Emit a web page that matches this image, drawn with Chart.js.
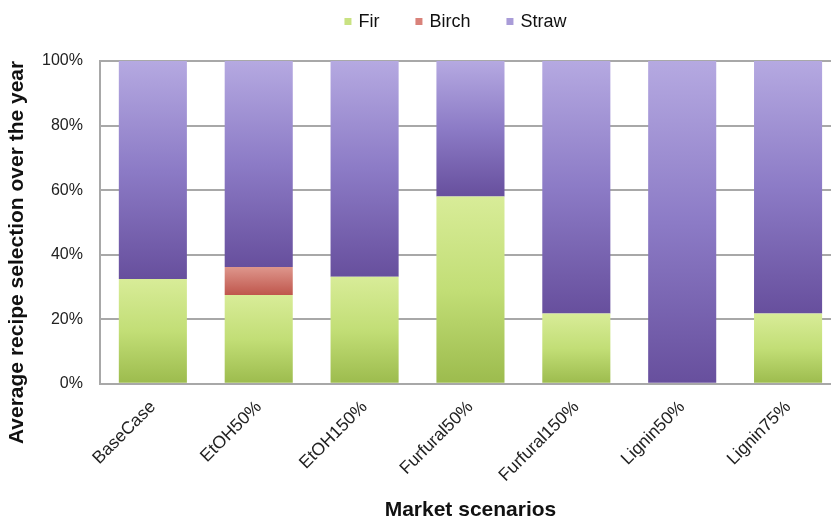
<!DOCTYPE html>
<html>
<head>
<meta charset="utf-8">
<script src="https://cdn.jsdelivr.net/npm/chart.js@4"></script>
<style>
    html, body { margin: 0; padding: 0; background: #fff; overflow: hidden; }
    #wrap { position: relative; width: 845px; height: 521px; }
</style>
</head>
<body>
<div id="wrap"><canvas id="chart"></canvas></div>
<script>
// Scenario results: share of each feedstock in the recipe, % of the year
const scenarios = ['BaseCase', 'EtOH50%', 'EtOH150%', 'Furfural50%', 'Furfural150%', 'Lignin50%', 'Lignin75%'];
const firShare = [32.5, 27.5, 33.2, 58, 21.8, 0, 21.8];
const birchShare = [0, 8.7, 0, 0, 0, 0, 0];
const strawShare = [67.5, 63.8, 66.8, 42, 78.2, 100, 78.2];

const feedstocks = ['Fir', 'Birch', 'Straw'];
const swatches = ['#c9e282', '#d9827a', '#a99cd8'];

const FONT = '"Liberation Sans", Arial, Helvetica, sans-serif';
const GRID = '#a8a8a8';

// Vertical gradient over one stacked segment (light on top, dark at bottom)
function segmentFill(stops) {
    return (c) => {
        const chart = c.chart;
        const { chartArea, scales } = chart;
        if (!chartArea || c.dataIndex === undefined) return stops[0];
        let base = 0;
        for (let k = 0; k < c.datasetIndex; k++) {
            base += chart.data.datasets[k].data[c.dataIndex];
        }
        const top = base + chart.data.datasets[c.datasetIndex].data[c.dataIndex];
        const y0 = scales.y.getPixelForValue(top);
        const y1 = scales.y.getPixelForValue(base);
        if (y1 - y0 < 1) return stops[0];
        const g = chart.ctx.createLinearGradient(0, y0, 0, y1);
        stops.forEach((col, i) => g.addColorStop(i / (stops.length - 1), col));
        return g;
    };
}

// Legend row above the plot and the rotated y title
const decorations = {
    id: 'decorations',
    afterDraw(chart) {
        const { ctx, chartArea } = chart;
        ctx.save();

        ctx.font = '18px ' + FONT;
        ctx.textBaseline = 'middle';
        const box = 7, gap = 7, spacing = 36;
        const widths = feedstocks.map(n => box + gap + ctx.measureText(n).width);
        const total = widths.reduce((a, b) => a + b, 0) + spacing * (feedstocks.length - 1);
        let x = (chartArea.left + chartArea.right) / 2 - 15 - total / 2;
        const y = 22.5;
        feedstocks.forEach((name, i) => {
            ctx.fillStyle = swatches[i];
            ctx.fillRect(x, y - box / 2 - 1, box, box);
            ctx.fillStyle = '#111';
            ctx.textAlign = 'left';
            ctx.fillText(name, x + box + gap, y);
            x += widths[i] + spacing;
        });

        // y title sits centred on the plot plus the tick label band below it
        ctx.font = 'bold 21px ' + FONT;
        ctx.fillStyle = '#111';
        ctx.translate(17, (chartArea.top + chartArea.bottom) / 2 + 30);
        ctx.rotate(-Math.PI / 2);
        ctx.textAlign = 'center';
        ctx.fillText('Average recipe selection over the year', 0, 0);
        ctx.restore();
    }
};

const barStyle = { categoryPercentage: 1.0, barPercentage: 0.643, borderWidth: 0 };

new Chart(document.getElementById('chart'), {
    type: 'bar',
    data: {
        labels: scenarios,
        datasets: [
            { label: 'Fir', data: firShare, backgroundColor: segmentFill(['#d8ec98', '#c2de76', '#9cbb4d']), ...barStyle },
            { label: 'Birch', data: birchShare, backgroundColor: segmentFill(['#de968c', '#bf564c']), ...barStyle },
            { label: 'Straw', data: strawShare, backgroundColor: segmentFill(['#b5a9e1', '#8c7bc6', '#674f9d']), ...barStyle }
        ]
    },
    options: {
        responsive: true,
        maintainAspectRatio: false,
        animation: false,
        layout: { padding: { top: 61, left: 25, right: 4, bottom: 0 } },
        plugins: {
            legend: { display: false },
            tooltip: { enabled: false }
        },
        scales: {
            x: {
                stacked: true,
                grid: { display: false },
                border: { display: true, color: GRID, width: 2 },
                ticks: {
                    color: '#222',
                    font: { family: FONT, size: 17.5 },
                    minRotation: 45,
                    maxRotation: 45,
                    padding: 5
                },
                title: {
                    display: true,
                    text: 'Market scenarios',
                    color: '#111',
                    font: { family: FONT, size: 21, weight: 'bold', lineHeight: 1 },
                    padding: { top: 9, bottom: 0 }
                }
            },
            y: {
                stacked: true,
                min: 0,
                max: 100,
                ticks: {
                    stepSize: 20,
                    color: '#222',
                    font: { family: FONT, size: 16 },
                    padding: 17,
                    callback: v => v + '%'
                },
                grid: { color: GRID, lineWidth: 2, drawTicks: false },
                border: { display: true, color: GRID, width: 2 }
            }
        }
    },
    plugins: [decorations]
});
</script>
</body>
</html>
